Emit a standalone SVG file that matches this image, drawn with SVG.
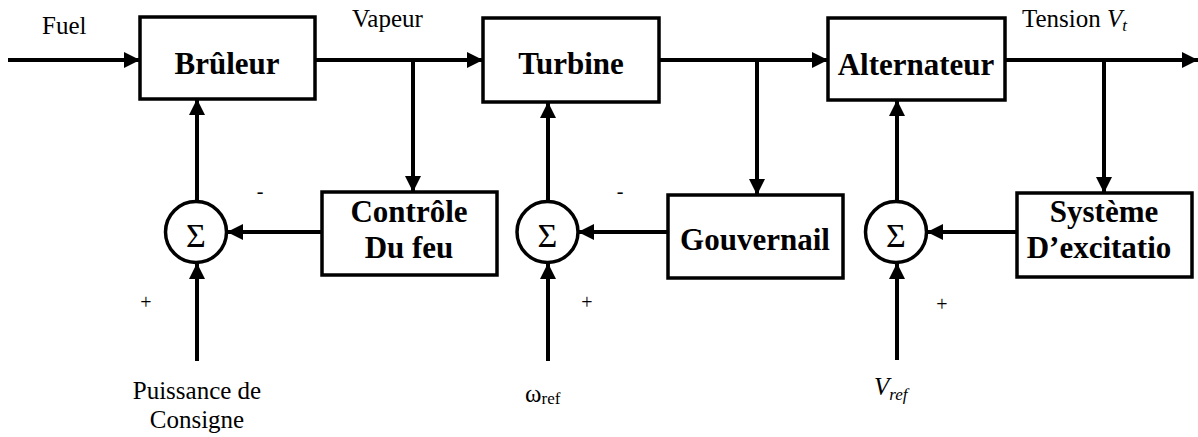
<svg xmlns="http://www.w3.org/2000/svg" width="1198" height="437" viewBox="0 0 1198 437">
  <style>
    .box { fill: #fff; stroke: #000; stroke-width: 3.5; }
    .sum { fill: #fff; stroke: #000; stroke-width: 3.5; }
    .wire { fill: none; stroke: #000; stroke-width: 4; }
    .arr { marker-end: url(#head); }
    .blk { font-family: "Liberation Serif", "Times New Roman", serif; font-weight: bold; font-size: 31px; text-anchor: middle; fill: #000; }
    .lbl { font-family: "Liberation Serif", "Times New Roman", serif; font-size: 25px; fill: #000; }
    .sig { font-family: "Liberation Serif", "Times New Roman", serif; font-size: 34px; text-anchor: middle; fill: #000; }
    .sgn { font-family: "Liberation Serif", "Times New Roman", serif; font-size: 20px; text-anchor: middle; fill: #000; }
  </style>
  <defs>
    <marker id="head" markerUnits="userSpaceOnUse" markerWidth="18" markerHeight="16" refX="16" refY="8" orient="auto">
      <path d="M0,0 L16,8 L0,16 Z" fill="#000"/>
    </marker>
  </defs>

  <rect width="1198" height="437" fill="#fff"/>

  <!-- signal lines -->
  <g id="connectors">
    <!-- forward path -->
    <line class="wire arr" x1="8" y1="60" x2="140" y2="60"/>
    <line class="wire arr" x1="315" y1="60" x2="483" y2="60"/>
    <line class="wire arr" x1="659" y1="60" x2="828" y2="60"/>
    <line class="wire arr" x1="1005" y1="60" x2="1198" y2="60"/>
    <!-- take-offs to the controllers -->
    <line class="wire arr" x1="413" y1="60" x2="413" y2="192"/>
    <line class="wire arr" x1="757" y1="60" x2="757" y2="195"/>
    <line class="wire arr" x1="1104" y1="60" x2="1104" y2="193"/>
    <!-- controller outputs into the summing junctions -->
    <line class="wire arr" x1="322" y1="232" x2="227" y2="232"/>
    <line class="wire arr" x1="668" y1="232" x2="578" y2="232"/>
    <line class="wire arr" x1="1017" y1="232" x2="927" y2="232"/>
    <!-- junction outputs up to the blocks -->
    <line class="wire arr" x1="197" y1="201" x2="197" y2="99"/>
    <line class="wire arr" x1="548" y1="201" x2="548" y2="102"/>
    <line class="wire arr" x1="897" y1="201" x2="897" y2="100"/>
    <!-- set-point inputs -->
    <line class="wire arr" x1="197" y1="361" x2="197" y2="263"/>
    <line class="wire arr" x1="548" y1="361" x2="548" y2="263"/>
    <line class="wire arr" x1="897" y1="360" x2="897" y2="263"/>
  </g>

  <g id="bruleur">
    <rect class="box" x="140" y="17" width="175" height="82"/>
    <text class="blk" x="227" y="74">Brûleur</text>
  </g>
  <g id="turbine">
    <rect class="box" x="483" y="18" width="176" height="84"/>
    <text class="blk" x="571" y="74">Turbine</text>
  </g>
  <g id="alternateur">
    <rect class="box" x="828" y="18" width="177" height="82"/>
    <text class="blk" x="916" y="75">Alternateur</text>
  </g>
  <g id="controle">
    <rect class="box" x="322" y="192" width="175" height="83"/>
    <text class="blk" x="409" y="222">Contrôle</text>
    <text class="blk" x="409" y="258">Du feu</text>
  </g>
  <g id="gouvernail">
    <rect class="box" x="668" y="195" width="175" height="83"/>
    <text class="blk" x="755" y="250">Gouvernail</text>
  </g>
  <g id="excitation">
    <rect class="box" x="1017" y="193" width="175" height="84"/>
    <text class="blk" x="1104" y="222">Système</text>
    <text class="blk" x="1099" y="258">D’excitatio</text>
  </g>

  <g id="sum1">
    <circle class="sum" cx="196" cy="232" r="30.5"/>
    <text class="sig" x="196" y="247">Σ</text>
  </g>
  <g id="sum2">
    <circle class="sum" cx="547.5" cy="232" r="30.5"/>
    <text class="sig" x="547.5" y="247">Σ</text>
  </g>
  <g id="sum3">
    <circle class="sum" cx="896" cy="232" r="30.5"/>
    <text class="sig" x="896" y="247">Σ</text>
  </g>

  <!-- signal names -->
  <g id="labels">
    <text class="lbl" x="42" y="34">Fuel</text>
    <text class="lbl" x="352" y="27">Vapeur</text>
    <text class="lbl" x="1022" y="27">Tension <tspan font-style="italic">V</tspan><tspan font-style="italic" font-size="17" dy="4">t</tspan></text>
    <text class="lbl" x="197" y="399" text-anchor="middle">Puissance de</text>
    <text class="lbl" x="197" y="428" text-anchor="middle">Consigne</text>
    <text class="lbl" x="525" y="402">ω<tspan font-size="17" dy="2">ref</tspan></text>
    <text class="lbl" x="874" y="395" font-style="italic">V<tspan font-size="17" dy="5">ref</tspan></text>
    <!-- junction signs -->
    <text class="sgn" x="260" y="198">-</text>
    <text class="sgn" x="620" y="198">-</text>
    <text class="sgn" x="146" y="309">+</text>
    <text class="sgn" x="587" y="309">+</text>
    <text class="sgn" x="942" y="311">+</text>
  </g>
</svg>
